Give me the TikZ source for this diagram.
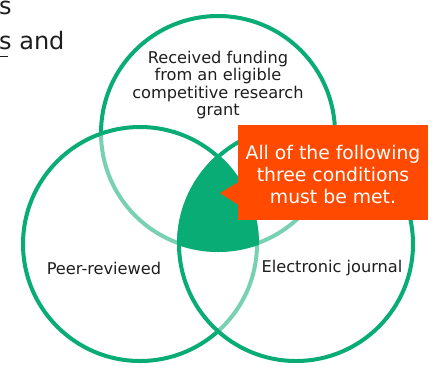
\documentclass[tikz,border=0pt]{standalone}
\usepackage{fontspec}
\setmainfont{DejaVu Sans}
\definecolor{vgreen}{RGB}{10,172,118}
\definecolor{vorange}{RGB}{255,74,0}
\definecolor{vtext}{RGB}{30,30,30}
\begin{document}
\begin{tikzpicture}[x=1pt,y=-1pt,
  ring/.style={draw=vgreen,line width=4pt},
  veil/.style={fill=white,fill opacity=0.45},
  lbl/.style={text=vtext,font=\fontsize{16.2}{17.5}\selectfont,align=center,inner sep=0pt},
  callout/.style={fill=vorange,draw=none},
  calltext/.style={text=white,font=\fontsize{18.8}{22}\selectfont,align=center,inner sep=0pt}]
\useasboundingbox (0,0) rectangle (433,365);
\clip (0,0) rectangle (433,365);
% page text clipped at top-left
\node[anchor=base west,text=vtext,font=\fontsize{24}{28}\selectfont,inner sep=0pt] (s1) at (-1,14) {s};
\node[anchor=base west,text=vtext,font=\fontsize{24}{28}\selectfont,inner sep=0pt] (s2) at (-1,49) {s and};
\draw[vtext,line width=1.2pt] (-1,56.5) -- (7.5,56.5);
% circles
\coordinate (ct) at (218,133);
\coordinate (cl) at (140,244);
\coordinate (cr) at (296,244);
\draw[ring] (ct) circle (117);
\path[veil] (cl) circle (117);
\draw[ring] (cl) circle (117);
\path[veil] (cr) circle (117);
\draw[ring] (cr) circle (117);
% triple intersection
\begin{scope}
  \clip (ct) circle (119);
  \clip (cl) circle (119);
  \fill[vgreen] (cr) circle (119);
\end{scope}
% labels
\node[lbl] (top) at (218,85) {Received funding\\from an eligible\\competitive research\\grant};
\node[lbl,anchor=center] (peer) at (104,268) {Peer-reviewed};
\node[lbl,anchor=center] (elec) at (332,268) {Electronic journal};
% callout
\fill[callout] (238,125) rectangle (428,220);
\fill[callout] (238.5,182) -- (220,193) -- (238.5,205) -- cycle;
\node[calltext] (note) at (333,174) {All of the following\\three conditions\\must be met.};
\end{tikzpicture}
\end{document}
